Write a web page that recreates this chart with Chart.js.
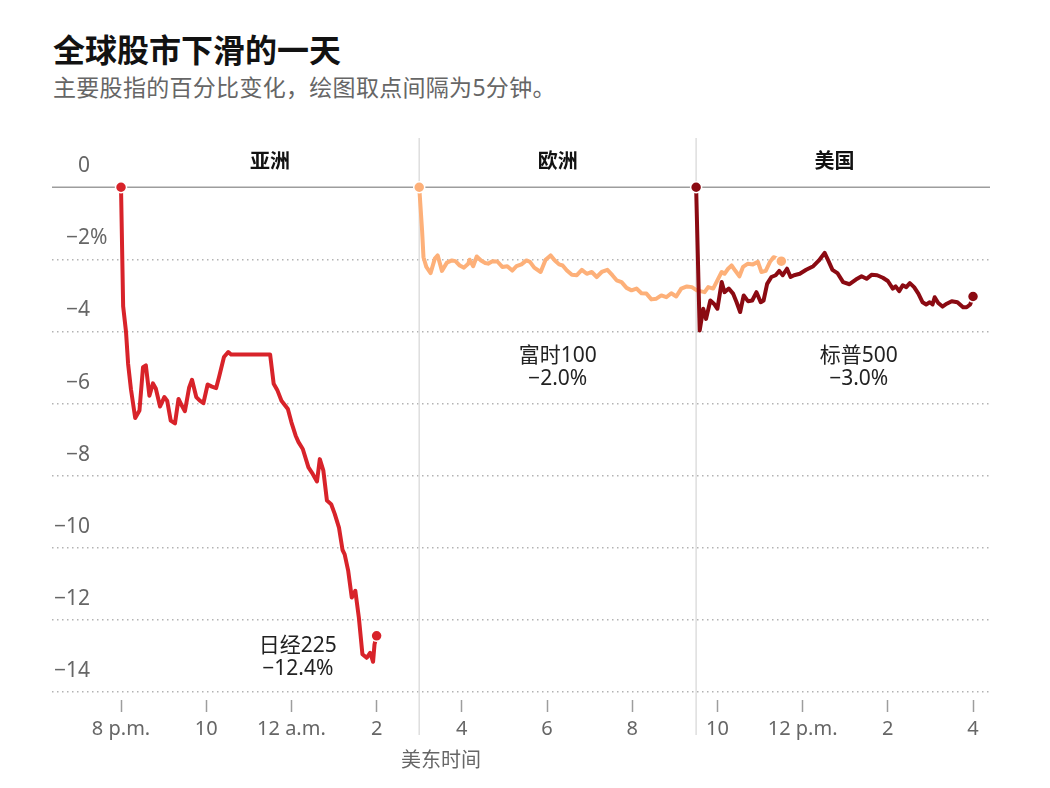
<!DOCTYPE html>
<html lang="zh">
<head>
<meta charset="utf-8">
<title>全球股市下滑的一天</title>
<script src="https://cdn.jsdelivr.net/npm/chart.js@4.4.1/dist/chart.umd.min.js"></script>
<style>
  html, body { margin: 0; padding: 0; background: #fff; }
  body {
    width: 1050px; height: 788px; position: relative; overflow: hidden;
    font-family: "Noto Sans", "Noto Sans CJK SC", sans-serif;
  }
  #chart { position: absolute; left: 0; top: 0; }
  h1 {
    position: absolute; left: 53px; top: 32px; margin: 0;
    font-size: 32px; line-height: 36px; font-weight: 700; color: #121212;
  }
  .sub {
    position: absolute; left: 53px; top: 74px; margin: 0;
    font-size: 23px; line-height: 26px; color: #666; letter-spacing: 0.3px;
  }
  .xtitle {
    position: absolute; left: 441px; top: 747px; transform: translateX(-50%);
    font-size: 20px; line-height: 26px; color: #666; white-space: nowrap;
  }
</style>
</head>
<body>
<h1>全球股市下滑的一天</h1>
<p class="sub">主要股指的百分比变化，绘图取点间隔为5分钟。</p>
<canvas id="chart" width="1050" height="788"></canvas>
<div class="xtitle">美东时间</div>

<script>
// time = minutes after 8 p.m. (US Eastern), value = % change
const nikkeiTimes = [0, 3, 7, 10, 14, 20, 26, 31, 35, 40, 45, 49, 55, 61, 65, 70, 76, 81, 85, 90,
  96, 100, 106, 111, 116, 122, 128, 134, 138, 145, 151, 155, 210, 215, 220, 226, 235, 240, 246, 250,
  256, 264, 270, 276, 280, 285, 290, 296, 301, 307, 312, 315, 320, 325, 330, 335, 340, 346, 351, 355,
  357, 360];
const nikkeiValues = [0, -3.3, -4.0, -4.9, -5.6, -6.4, -6.19, -4.99, -4.94, -5.78, -5.44, -5.58, -6.08, -5.82, -5.92, -6.47, -6.55, -5.87, -6.03, -6.21,
  -5.55, -5.34, -5.82, -5.92, -5.99, -5.47, -5.53, -5.57, -5.27, -4.71, -4.57, -4.64, -4.64, -5.45, -5.62, -5.92, -6.15, -6.52, -6.89, -7.07,
  -7.26, -7.77, -7.95, -8.16, -7.54, -7.86, -8.69, -8.79, -9.06, -9.44, -10.06, -10.18, -10.64, -11.38, -11.19, -11.94, -12.95, -13.05, -12.91, -13.16,
  -12.68, -12.44];

const ftseTimes = [420, 424, 426, 430, 436, 442, 446, 452, 459, 466, 471, 477, 483, 489, 491, 496, 501, 507, 513, 517,
  523, 530, 537, 544, 551, 557, 564, 571, 576, 582, 591, 598, 605, 611, 617, 622, 628, 635, 642, 649,
  656, 663, 670, 677, 685, 692, 698, 705, 712, 719, 726, 733, 740, 747, 754, 761, 768, 775, 782, 789,
  797, 804, 811, 822, 827, 834, 841, 846, 850, 855, 860, 865, 871, 876, 883, 890, 897, 902, 908, 914,
  919, 925, 930];
const ftseValues = [0, -1.19, -1.94, -2.21, -2.38, -1.98, -1.89, -2.32, -2.09, -2.03, -2.05, -2.17, -2.23, -2.12, -2.01, -2.19, -1.92, -2.03, -2.10, -2.12,
  -2.05, -2.06, -2.21, -2.19, -2.31, -2.19, -2.14, -2.03, -2.07, -2.23, -2.35, -2.01, -1.89, -2.03, -2.14, -2.17, -2.31, -2.43, -2.44, -2.29,
  -2.40, -2.35, -2.49, -2.35, -2.29, -2.44, -2.58, -2.63, -2.79, -2.86, -2.81, -2.94, -2.95, -3.11, -3.09, -3.0, -3.05, -2.94, -3.03, -2.81,
  -2.75, -2.77, -2.86, -2.91, -2.77, -2.81, -2.54, -2.35, -2.40, -2.26, -2.17, -2.31, -2.47, -2.21, -2.12, -2.14, -2.07, -2.35, -2.32, -2.07,
  -1.94, -1.98, -2.05];

const spTimes = [810, 815, 820, 824, 830, 835, 840, 846, 850, 856, 862, 867, 872, 877, 883, 889, 895, 901, 905, 910,
  916, 922, 927, 932, 938, 943, 948, 956, 965, 975, 983, 991, 996, 1002, 1009, 1017, 1026, 1035, 1043, 1050,
  1057, 1065, 1073, 1080, 1087, 1091, 1096, 1101, 1106, 1111, 1117, 1123, 1129, 1134, 1139, 1143, 1146, 1151, 1157, 1163,
  1170, 1178, 1186, 1191, 1196, 1200];
const spValues = [0, -3.97, -3.37, -3.65, -3.14, -3.23, -3.37, -2.63, -2.91, -2.81, -2.95, -3.19, -3.46, -3.0, -3.16, -3.14, -2.91, -3.19, -3.14, -2.68,
  -2.49, -2.44, -2.32, -2.44, -2.26, -2.49, -2.44, -2.40, -2.29, -2.19, -2.03, -1.82, -2.03, -2.29, -2.38, -2.63, -2.69, -2.56, -2.47, -2.54,
  -2.43, -2.44, -2.51, -2.60, -2.81, -2.75, -2.88, -2.72, -2.77, -2.66, -2.77, -2.95, -3.19, -3.25, -3.19, -3.25, -3.05, -3.21, -3.31, -3.23,
  -3.16, -3.19, -3.33, -3.33, -3.25, -3.03];

const indexNames = ["日经225", "富时100", "标普500"];
const indexChanges = ["−12.4%", "−2.0%", "−3.0%"];

const sectionNames = ["亚洲", "欧洲", "美国"];
const sectionBounds = [0, 420, 810, 1200];

const xTickValues = [0, 120, 240, 360, 480, 600, 720, 840, 960, 1080, 1200];
const xTickLabels = ["8 p.m.", "10", "12 a.m.", "2", "4", "6", "8", "10", "12 p.m.", "2", "4"];
const yTickValues = [0, -2, -4, -6, -8, -10, -12, -14];
const yTickLabels = ["0", "−2%", "−4", "−6", "−8", "−10", "−12", "−14"];

const fontFamily = '"Noto Sans", "Noto Sans CJK SC", sans-serif';
Chart.defaults.font.family = fontFamily;

// where the end labels sit (data units) for each index
const labelSpots = [{ x: 249, y: -12.72 }, { x: 615, y: -4.69 }, { x: 1039, y: -4.69 }];

function toPoints(times, values) {
	return times.map((t, i) => ({ x: t, y: values[i] }));
}

function endDots(ctx) {
	const last = ctx.dataset.data.length - 1;
	return ctx.dataIndex === 0 || ctx.dataIndex === last ? 5.5 : 0;
}

function lineDataset(label, times, values, color) {
	return {
		label: label,
		data: toPoints(times, values),
		borderColor: color,
		backgroundColor: color,
		borderWidth: 4,
		tension: 0,
		borderJoinStyle: "round",
		borderCapStyle: "round",
		pointRadius: endDots,
		pointHoverRadius: endDots,
		pointBackgroundColor: color,
		pointBorderColor: "#fff",
		pointBorderWidth: 1.5,
	};
}

const decorPlugin = {
	id: "decor",
	beforeDatasetsDraw(chart) {
		const { ctx, chartArea, scales } = chart;
		const x = scales.x;
		const y = scales.y;
		ctx.save();

		// section separators
		ctx.strokeStyle = "#dedede";
		ctx.lineWidth = 1.5;
		for (const t of sectionBounds.slice(1, -1)) {
			const px = x.getPixelForValue(t);
			ctx.beginPath();
			ctx.moveTo(px, chartArea.top - 2);
			ctx.lineTo(px, chartArea.bottom + 35);
			ctx.stroke();
		}

		// zero line
		const y0 = y.getPixelForValue(0);
		ctx.strokeStyle = "#9d9d9d";
		ctx.lineWidth = 1.5;
		ctx.beginPath();
		ctx.moveTo(chartArea.left, y0);
		ctx.lineTo(chartArea.right, y0);
		ctx.stroke();

		// y labels sit above their grid line
		ctx.font = "21px " + fontFamily;
		ctx.fillStyle = "#666";
		ctx.textBaseline = "middle";
		yTickValues.forEach((v, i) => {
			const py = y.getPixelForValue(v) - 21;
			let text = yTickLabels[i];
			const pct = text.endsWith("%");
			if (pct) text = text.slice(0, -1);
			ctx.textAlign = "right";
			ctx.fillText(text, 90, py);
			if (pct) {
				ctx.textAlign = "left";
				ctx.fillText("%", 90, py);
			}
		});

		// section headers
		ctx.font = "bold 20px " + fontFamily;
		ctx.fillStyle = "#121212";
		ctx.textAlign = "center";
		sectionNames.forEach((name, i) => {
			const mid = (sectionBounds[i] + sectionBounds[i + 1]) / 2;
			ctx.fillText(name, x.getPixelForValue(mid), chartArea.top + 22);
		});

		// index end labels
		ctx.font = "21px " + fontFamily;
		ctx.fillStyle = "#222";
		indexNames.forEach((name, i) => {
			const px = x.getPixelForValue(labelSpots[i].x);
			const py = y.getPixelForValue(labelSpots[i].y);
			ctx.fillText(name, px, py);
			ctx.fillText(indexChanges[i], px, py + 23);
		});

		ctx.restore();
	},
};

new Chart(document.getElementById("chart"), {
	type: "line",
	data: {
		datasets: [
			lineDataset("标普500", spTimes, spValues, "#8b0a12"),
			lineDataset("富时100", ftseTimes, ftseValues, "#fdb079"),
			lineDataset("日经225", nikkeiTimes, nikkeiValues, "#d8232a"),
		],
	},
	options: {
		responsive: false,
		animation: false,
		events: [],
		layout: { padding: { left: 52, right: 60, top: 140, bottom: 42 } },
		plugins: {
			legend: { display: false },
			tooltip: { enabled: false },
		},
		scales: {
			x: {
				type: "linear",
				min: -97.2,
				max: 1223.9,
				afterBuildTicks: (scale) => {
					scale.ticks = xTickValues.map((v) => ({ value: v }));
				},
				ticks: {
					autoSkip: false,
					maxRotation: 0,
					padding: 5,
					color: "#666",
					font: { size: 20 },
					callback: (value, index) => xTickLabels[index],
				},
				grid: {
					drawOnChartArea: false,
					drawTicks: true,
					tickLength: 12,
					tickColor: "#9d9d9d",
					tickWidth: 1.5,
				},
				border: { display: false },
			},
			y: {
				type: "linear",
				min: -14.22,
				max: 1.31,
				afterBuildTicks: (scale) => {
					scale.ticks = yTickValues.map((v) => ({ value: v }));
				},
				ticks: { display: false },
				grid: {
					drawTicks: false,
					lineWidth: 1.5,
					color: (ctx) => (ctx.tick && ctx.tick.value === 0 ? "rgba(0,0,0,0)" : "#b3b3b3"),
				},
				border: { display: false, dash: [1.5, 3.5] },
			},
		},
	},
	plugins: [decorPlugin],
});
</script>
</body>
</html>
